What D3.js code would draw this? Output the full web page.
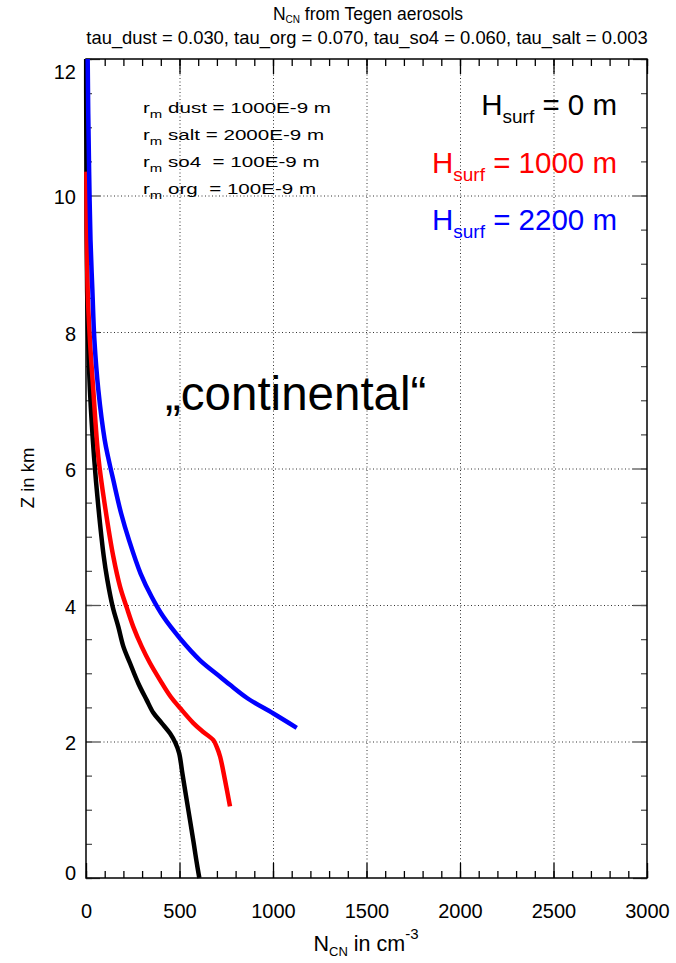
<!DOCTYPE html>
<html><head><meta charset="utf-8">
<script src="https://cdn.jsdelivr.net/npm/d3@7"></script>
<style>body{margin:0;background:#fff}svg{display:block;font-family:"Liberation Sans",Arial,Helvetica,sans-serif}</style>
</head><body><svg id="c" width="676" height="963"></svg>
<script>
// ---- data ----
const xTicks = [0, 500, 1000, 1500, 2000, 2500, 3000];
const yTicks = [0, 2, 4, 6, 8, 10, 12];
const zBlack = [0, 0.26, 0.51, 0.85, 1.25, 1.54, 1.83, 1.98, 2.12, 2.27, 2.42, 2.61, 2.85, 3.15, 3.39, 3.68, 3.97, 4.37, 4.71, 5.44, 6.17, 7.15, 7.88, 8.6, 9.5, 10.5, 11.5, 12];
const nBlack = [606, 590, 576, 556, 532, 515, 498, 478, 449, 405, 360, 324, 280, 235, 200, 173, 143, 114, 95, 66, 43, 21, 12, 6, 3, 2, 1, 1];
const zRed = [1.05, 1.44, 1.78, 1.92, 2.02, 2.14, 2.27, 2.49, 2.66, 2.90, 3.15, 3.39, 3.68, 3.97, 4.27, 4.71, 5.44, 6.17, 7.15, 7.88, 8.6, 9.5, 10.35];
const nRed = [770, 743, 717, 699, 681, 627, 574, 503, 452, 396, 342, 298, 253, 217, 182, 146, 102, 66, 39, 21, 9, 4, 2];
const zBlue = [2.2, 2.41, 2.63, 2.83, 2.95, 3.19, 3.51, 3.83, 4.12, 4.46, 4.95, 5.34, 5.83, 6.17, 6.42, 7.15, 7.88, 8.62, 9.35, 10.3, 11.2, 12];
const nBlue = [1127, 1002, 865, 770, 717, 610, 503, 413, 351, 292, 230, 188, 146, 118, 100, 66, 45, 34, 24, 17, 12, 9];
const seriesNames = ["0 m", "1000 m", "2200 m"];
const seriesColors = ["#000000", "#ff0000", "#0000ff"];
const radiusLabels = [["dust", " = 1000E-9 m"], ["salt", " = 2000E-9 m"], ["so4", "  = 100E-9 m"], ["org", "  = 100E-9 m"]];

const svg = d3.select("#c");
const L = 86, R = 647, T = 59, B = 878;
const x = d3.scaleLinear().domain([0, 3000]).range([L, R]);
const y = d3.scaleLinear().domain([0, 12]).range([B, T]);

// grid
const grid = svg.append("g").attr("stroke", "#333").attr("stroke-width", 1).attr("stroke-dasharray", "1,2.5");
grid.selectAll("line.v").data(xTicks.slice(1, -1)).join("line")
  .attr("x1", d => x(d) + 0.5).attr("x2", d => x(d) + 0.5).attr("y1", B - 15).attr("y2", T);
grid.selectAll("line.h").data(yTicks.slice(1, -1)).join("line")
  .attr("y1", d => y(d) + 0.5).attr("y2", d => y(d) + 0.5).attr("x1", L + 14).attr("x2", R - 14);

// ticks
const minorX = d3.range(0, 3001, 100), minorY = d3.range(0, 12.001, 0.5);
function tickAxis(axis, tr) {
  const g = svg.append("g").attr("transform", tr).call(axis);
  g.select(".domain").remove();
  g.selectAll("line").attr("stroke", "#000").attr("stroke-width", 1.3);
  return g;
}
tickAxis(d3.axisBottom(x).tickValues(minorX).tickSize(-7).tickFormat(""), `translate(0,${B})`);
tickAxis(d3.axisBottom(x).tickValues(xTicks).tickSize(-15).tickFormat(""), `translate(0,${B})`);
tickAxis(d3.axisTop(x).tickValues(minorX).tickSize(-7).tickFormat(""), `translate(0,${T})`);
tickAxis(d3.axisTop(x).tickValues(xTicks).tickSize(-15).tickFormat(""), `translate(0,${T})`);
tickAxis(d3.axisLeft(y).tickValues(minorY).tickSize(-6).tickFormat(""), `translate(${L},0)`).selectAll("line").attr("stroke", "#555");
tickAxis(d3.axisLeft(y).tickValues(yTicks).tickSize(-14).tickFormat(""), `translate(${L},0)`).selectAll("line").attr("stroke", "#555");
tickAxis(d3.axisRight(y).tickValues(minorY).tickSize(-6).tickFormat(""), `translate(${R},0)`).selectAll("line").attr("stroke", "#555");
tickAxis(d3.axisRight(y).tickValues(yTicks).tickSize(-14).tickFormat(""), `translate(${R},0)`).selectAll("line").attr("stroke", "#555");

// tick labels
const xl = svg.append("g").attr("transform", `translate(0,${B})`)
  .call(d3.axisBottom(x).tickValues(xTicks).tickSize(0).tickPadding(26).tickFormat(d3.format("d")));
xl.select(".domain").remove();
xl.selectAll("text").attr("font-size", 20).attr("font-family", "Liberation Sans, Arial, sans-serif").attr("fill", "#000");
const yl = svg.append("g").attr("transform", `translate(${L},0)`)
  .call(d3.axisLeft(y).tickValues(yTicks).tickSize(0).tickPadding(10).tickFormat(d3.format("d")));
yl.select(".domain").remove();
yl.selectAll("text").attr("font-size", 20).attr("font-family", "Liberation Sans, Arial, sans-serif").attr("fill", "#000")
  .attr("dy", d => d === 12 ? "0.95em" : d === 0 ? "0.05em" : "0.42em");

// frame
svg.append("rect").attr("x", L).attr("y", T).attr("width", R - L).attr("height", B - T)
  .attr("fill", "none").attr("stroke", "#000").attr("stroke-width", 1.5);

// curves
const line = d3.line().x(d => x(d[0])).y(d => y(d[1])).curve(d3.curveCatmullRom.alpha(0.5));
const data = [d3.zip(nBlack, zBlack), d3.zip(nRed, zRed), d3.zip(nBlue, zBlue)];
svg.append("g").selectAll("path").data(data).join("path")
  .attr("d", line).attr("fill", "none").attr("stroke", (d, i) => seriesColors[i])
  .attr("stroke-width", 4.5).attr("stroke-linejoin", "round");

// titles
const t1 = svg.append("text").attr("x", 368).attr("y", 20).attr("text-anchor", "middle").attr("font-size", 17.5);
t1.append("tspan").text("N");
t1.append("tspan").attr("font-size", 10).attr("dy", 3).text("CN");
t1.append("tspan").attr("dy", -3).text(" from Tegen aerosols");
svg.append("text").attr("x", 367).attr("y", 44).attr("text-anchor", "middle").attr("font-size", 18.4)
  .text("tau_dust = 0.030, tau_org = 0.070, tau_so4 = 0.060, tau_salt = 0.003");

const xt = svg.append("text").attr("x", 366).attr("y", 951).attr("text-anchor", "middle").attr("font-size", 21.5);
xt.append("tspan").text("N");
xt.append("tspan").attr("font-size", 13).attr("dy", 5).text("CN");
xt.append("tspan").attr("dy", -5).text(" in cm");
xt.append("tspan").attr("font-size", 15).attr("dy", -12).text("-3");

svg.append("text").attr("transform", "translate(34,478) rotate(-90)").attr("text-anchor", "middle")
  .attr("font-size", 18.5).text("Z in km");

// radius annotations
radiusLabels.forEach((r, i) => {
  const g = svg.append("g").attr("transform", `translate(143,${113 + i * 27}) scale(1.42,1)`);
  const t = g.append("text").attr("font-size", 14.5).attr("style", "white-space:pre");
  t.append("tspan").text("r");
  t.append("tspan").attr("font-size", 10.5).attr("dy", 5).text("m");
  t.append("tspan").attr("dy", -5).text(" " + r[0] + r[1]);
});

// H_surf legend
seriesNames.forEach((s, i) => {
  const t = svg.append("text").attr("x", 617).attr("y", 115 + i * 57.5).attr("text-anchor", "end")
    .attr("font-size", 29.5).attr("fill", seriesColors[i]).attr("style", "white-space:pre");
  t.append("tspan").text("H");
  t.append("tspan").attr("font-size", 19).attr("dy", 8).text("surf");
  t.append("tspan").attr("dy", -8).text(" = " + s);
});

svg.append("text").attr("x", 165).attr("y", 410).attr("font-size", 47.5).text("\u201Econtinental\u201C");
</script></body></html>
